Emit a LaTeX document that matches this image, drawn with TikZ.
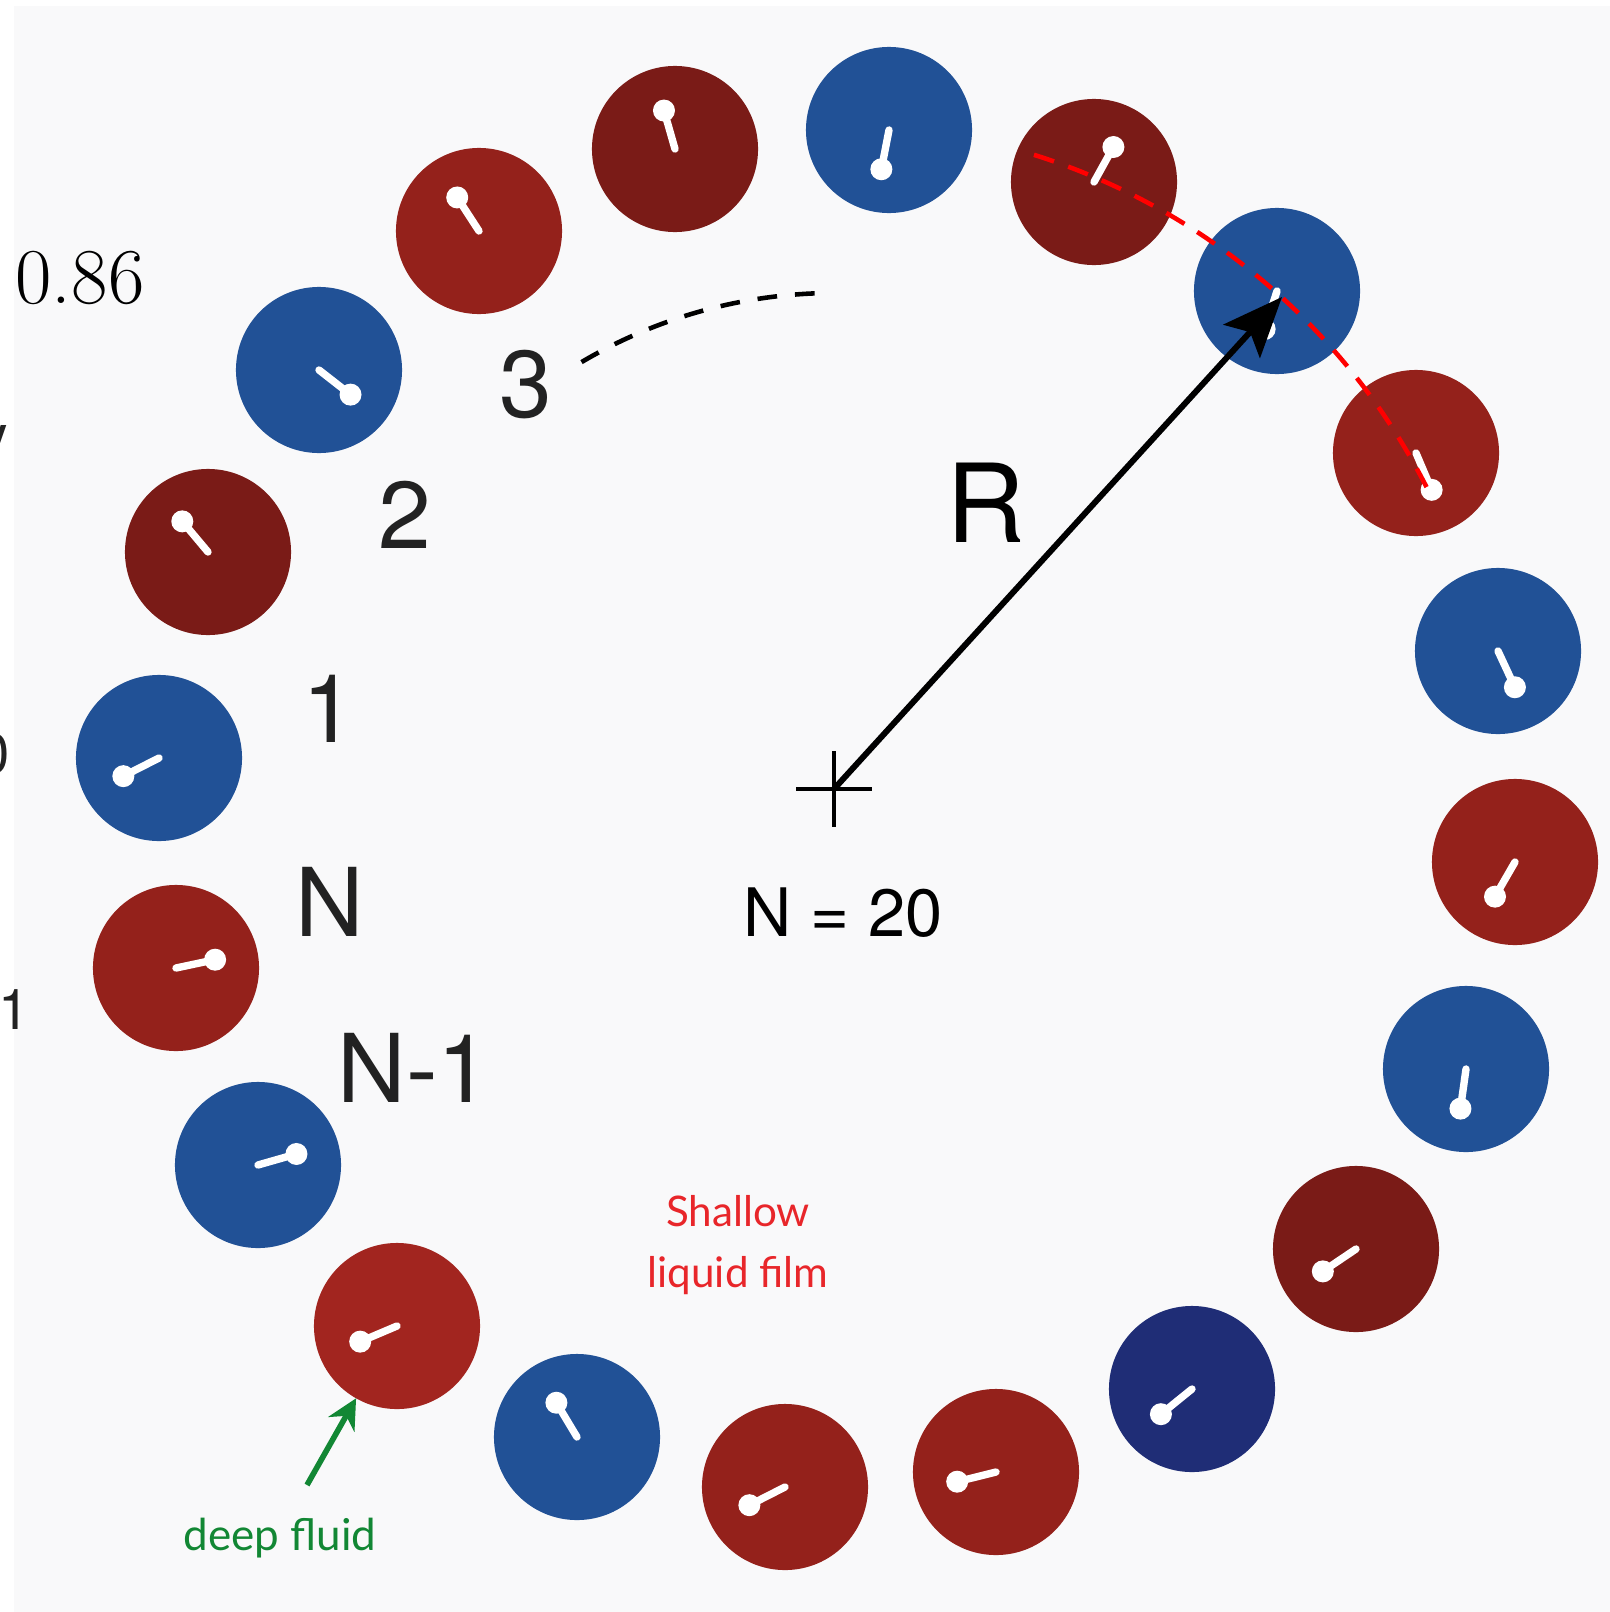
\documentclass[tikz,border=0pt]{standalone}
\usepackage{fontspec}
\newfontfamily\labelfont{TeX Gyre Heros}
\newfontfamily\notefont{Lato}
\usetikzlibrary{arrows.meta}

\definecolor{bgpanel}{RGB}{249,249,250}
\definecolor{diskblue}{RGB}{33,81,150}
\definecolor{disknavy}{RGB}{31,45,118}
\definecolor{diskdark}{RGB}{122,27,23}
\definecolor{diskred}{RGB}{148,33,27}
\definecolor{disklight}{RGB}{162,37,31}
\definecolor{labelgrey}{RGB}{34,34,34}
\definecolor{filmred}{RGB}{232,38,42}
\definecolor{deepgreen}{RGB}{18,135,52}

\tikzset{
  disk/.style={circle, minimum size=1.66cm, inner sep=0pt, outer sep=0pt},
  lbl/.style={font=\labelfont\fontsize{27}{32}\selectfont, text=labelgrey, inner sep=0pt},
  cutlbl/.style={font=\labelfont\fontsize{16}{19}\selectfont, text=labelgrey, anchor=east, inner sep=0pt},
  pointer/.style={white, line width=2.1pt, line cap=round},
}

\begin{document}
\begin{tikzpicture}[x=0.01cm, y=-0.01cm]
  % page and panel
  \clip (0,0) rectangle (1610,1612);
  \fill[white] (0,0) rectangle (1610,1612);
  \fill[bgpanel] (14,6) rectangle (1610,1612);
  % disks of the ring, each with its pointer
  \foreach \i/\x/\y/\c/\a in {
      1/159/758/diskblue/207, 2/208/552/diskdark/130, 3/319/370/diskblue/322,
      4/479/231/diskred/123, 5/675/149/diskdark/106, 6/889/130/diskblue/259,
      7/1094/182/diskdark/61, 8/1277/291/diskblue/252, 9/1416/453/diskred/293,
      10/1498/651/diskblue/295, 11/1515/862/diskred/240, 12/1466/1069/diskblue/262,
      13/1356/1249/diskdark/214, 14/1192/1389/disknavy/219, 15/996/1472/diskred/194,
      16/785/1487/diskred/207, 17/577/1437/diskblue/121, 18/397/1326/disklight/203,
      19/258/1165/diskblue/16, 20/176/968/diskred/12}{
    \node[disk, fill=\c] (d\i) at (\x,\y) {};
    \draw[pointer] (d\i.center) -- ++(-\a:40);
    \fill[white] (d\i.center) ++(-\a:40) circle (11);
  }
  % centre of the ring
  \coordinate (o) at (834,789);
  \draw[line width=1.4pt] (o) +(-38,0) -- +(38,0) (o) +(0,-38) -- +(0,38);
  % dashed arcs
  \draw[red, line width=1.3pt, dash pattern=on 6pt off 4.3pt]
    ([shift={(-72.5:665)}]o) arc[start angle=-72.5, end angle=-27, radius=665];
  \draw[line width=1.3pt, dash pattern=on 5.6pt off 5.1pt]
    ([shift={(-120.6:496)}]o) arc[start angle=-120.6, end angle=-92, radius=496];
  % radius
  \coordinate (rtip) at (1282,297);
  \draw[line width=1.7pt, -{Stealth[length=17pt, width=14pt, inset=3.5pt]}] (o) -- (rtip);
  \node[font=\labelfont\fontsize{31}{36}\selectfont, inner sep=0pt] (rlabel) at (986,503) {R};
  \node[font=\labelfont\fontsize{19}{23}\selectfont, inner sep=0pt] (count) at (843,913) {N = 20};
  % disk numbers
  \node[lbl] (l1) at (329,709) {1};
  \node[lbl] (l2) at (405,515) {2};
  \node[lbl] (l3) at (526,385) {3};
  \node[lbl] (lN) at (330,902) {N};
  \node[lbl] (lNm) at (414,1068) {N-1};
  % cut-off text on the left edge
  \node[font=\fontsize{22.5}{27}\selectfont, inner sep=0pt] (val) at (80,278) {0.86};
  \node[cutlbl] (cut1) at (9,446) {V};
  \node[cutlbl] (cut2) at (10,754) {0};
  \node[cutlbl] (cut3) at (30,1010) {1};
  % notes
  \node[font=\notefont\fontsize{12}{17.4}\selectfont, text=filmred, align=center, inner sep=0pt]
    (film) at (738,1245) {Shallow\\liquid film};
  \node[font=\notefont\fontsize{12.5}{15}\selectfont, text=deepgreen, inner sep=0pt]
    (deep) at (280,1538) {deep fluid};
  \coordinate (gtail) at (307,1485);
  \draw[deepgreen, line width=1.6pt, -{Stealth[length=8.5pt, width=8.5pt]}] (gtail) -- (d18);
\end{tikzpicture}
\end{document}
